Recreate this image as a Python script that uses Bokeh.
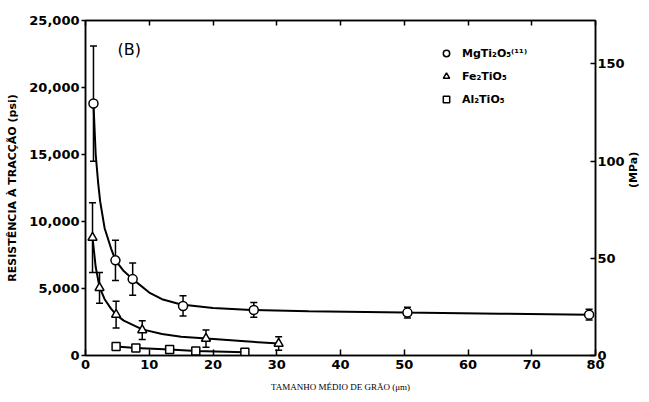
from bokeh.plotting import figure
from bokeh.models import (ColumnDataSource, Whisker, TeeHead, LinearAxis, Range1d,
                          NumeralTickFormatter, FixedTicker, Legend, LegendItem, Label,
                          CustomJSTickFormatter)
from bokeh.embed import file_html
from bokeh.resources import INLINE
import math

# ---- data ----
mg_x = [1.25, 4.7, 7.4, 15.3, 26.4, 50.5, 79.0]
mg_y = [18800, 7100, 5700, 3700, 3400, 3200, 3050]
mg_err = [4300, 1500, 1200, 750, 550, 400, 400]

fe_x = [1.1, 2.2, 4.8, 8.9, 18.9, 30.3]
fe_y = [8800, 5050, 3050, 1900, 1260, 890]
fe_err = [2600, 1150, 1000, 700, 650, 500]

al_x = [4.8, 7.9, 13.2, 17.3, 25.0]
al_y = [670, 560, 450, 330, 250]

# fitted curves
mg_curve_x = [1.25, 1.6, 2.0, 2.3, 3.0, 4.0, 4.7, 6.0, 7.4, 10, 12, 15, 20, 26, 35, 50, 65, 79]
mg_curve_y = [18800, 15000, 12800, 11500, 9500, 8000, 7100, 6300, 5700, 4700, 4200, 3800, 3550, 3400, 3300, 3200, 3120, 3050]
fe_curve_x = [1.1, 1.6, 2.2, 3.0, 4.0, 4.8, 6.0, 8.9, 12, 15, 19, 25, 30.3]
fe_curve_y = [8800, 6600, 5100, 4200, 3500, 3050, 2600, 1950, 1600, 1400, 1260, 1060, 890]

x_ticks = [0, 10, 20, 30, 40, 50, 60, 70, 80]
y_ticks = [0, 5000, 10000, 15000, 20000, 25000]
mpa_ticks = [0, 50, 100, 150]

labels = ["MgTi₂O₅⁽¹¹⁾", "Fe₂TiO₅", "Al₂TiO₅"]

PSI_TO_MPA = 0.00689476

p = figure(width=649, height=402, output_backend="svg", toolbar_location=None,
           x_range=Range1d(0, 80), y_range=Range1d(0, 25000),
           min_border_left=85, min_border_right=52, min_border_top=20, min_border_bottom=47,
           background_fill_color="white", border_fill_color="white")
p.grid.visible = False
p.outline_line_color = "black"
p.outline_line_width = 1.5

FONT = "DejaVu Sans"

def style_axis(a):
    a.minor_tick_line_color = None
    a.axis_line_width = 1.5
    a.axis_line_color = "black"
    a.major_tick_line_width = 1.5
    a.major_tick_line_color = "black"
    a.major_label_text_font = FONT
    a.major_label_text_font_style = "bold"
    a.major_label_text_font_size = "13px"
    a.major_label_text_color = "black"
    a.axis_label_text_color = "black"

# bottom axis
xa = p.xaxis[0]
style_axis(xa)
xa.ticker = FixedTicker(ticks=x_ticks)
xa.major_tick_in = 6
xa.major_tick_out = 0
xa.major_label_standoff = 4
xa.axis_label = "TAMANHO MÉDIO DE GRÃO (μm)"
xa.axis_label_text_font = "Liberation Serif"
xa.axis_label_text_font_style = "normal"
xa.axis_label_text_font_size = "9px"
xa.axis_label_standoff = 10

# left axis
ya = p.yaxis[0]
style_axis(ya)
ya.ticker = FixedTicker(ticks=y_ticks)
ya.formatter = NumeralTickFormatter(format="0,0")
ya.major_tick_in = 0
ya.major_tick_out = 4
ya.major_label_standoff = 2
ya.axis_label = "RESISTÊNCIA À TRACÇÃO (psi)"
ya.axis_label_text_font = FONT
ya.axis_label_text_font_style = "bold"
ya.axis_label_text_font_size = "11px"
ya.axis_label_standoff = 7

# right axis in MPa
p.extra_y_ranges = {"mpa": Range1d(0, 25000 * PSI_TO_MPA)}
ra = LinearAxis(y_range_name="mpa", ticker=FixedTicker(ticks=mpa_ticks),
                axis_label="(MPa)")
style_axis(ra)
ra.major_tick_in = 5
ra.major_tick_out = 0
ra.major_label_standoff = 2
ra.axis_label_text_font = FONT
ra.axis_label_text_font_style = "bold"
ra.axis_label_text_font_size = "11px"
ra.axis_label_standoff = 6
if "axis_label_orientation" in ra.properties():
    ra.axis_label_orientation = math.pi / 2
p.add_layout(ra, "right")

# top axis with ticks only
ta = LinearAxis(ticker=FixedTicker(ticks=x_ticks),
                formatter=CustomJSTickFormatter(code="return ''"))
style_axis(ta)
ta.major_tick_in = 5
ta.major_tick_out = 0
ta.major_label_standoff = 0
p.add_layout(ta, "above")

# curves
p.line(mg_curve_x, mg_curve_y, line_color="black", line_width=2)
p.line(fe_curve_x, fe_curve_y, line_color="black", line_width=2)
p.line(al_x, al_y, line_color="black", line_width=2)

# error bars
def add_err(xs, ys, errs):
    src = ColumnDataSource(dict(x=xs, upper=[y + e for y, e in zip(ys, errs)],
                                lower=[y - e for y, e in zip(ys, errs)]))
    w = Whisker(base="x", upper="upper", lower="lower", source=src,
                line_color="black", line_width=1.5,
                upper_head=TeeHead(size=7, line_color="black", line_width=1.5),
                lower_head=TeeHead(size=7, line_color="black", line_width=1.5))
    p.add_layout(w)

add_err(mg_x, mg_y, mg_err)
add_err(fe_x, fe_y, fe_err)

r_mg = p.scatter(mg_x, mg_y, marker="circle", size=9, fill_color="white",
                 line_color="black", line_width=1.5)
r_fe = p.scatter(fe_x, fe_y, marker="triangle", size=9, fill_color="white",
                 line_color="black", line_width=1.5)
r_al = p.scatter(al_x, al_y, marker="square", size=8, fill_color="white",
                 line_color="black", line_width=1.5)

legend = Legend(items=[LegendItem(label=labels[0], renderers=[r_mg]),
                       LegendItem(label=labels[1], renderers=[r_fe]),
                       LegendItem(label=labels[2], renderers=[r_al])],
                location=(353, 247), border_line_color=None,
                background_fill_alpha=0, label_text_font=FONT,
                label_text_font_style="bold", label_text_font_size="11px",
                label_text_color="black",
                glyph_width=16, glyph_height=18, spacing=5, label_standoff=8,
                padding=2, margin=0)
p.add_layout(legend, "center")

p.add_layout(Label(x=32, y=297, x_units="screen", y_units="screen", text="(B)",
                   text_font=FONT, text_font_size="16px", text_color="black"))

open("out.html", "w").write(file_html(p, INLINE))
